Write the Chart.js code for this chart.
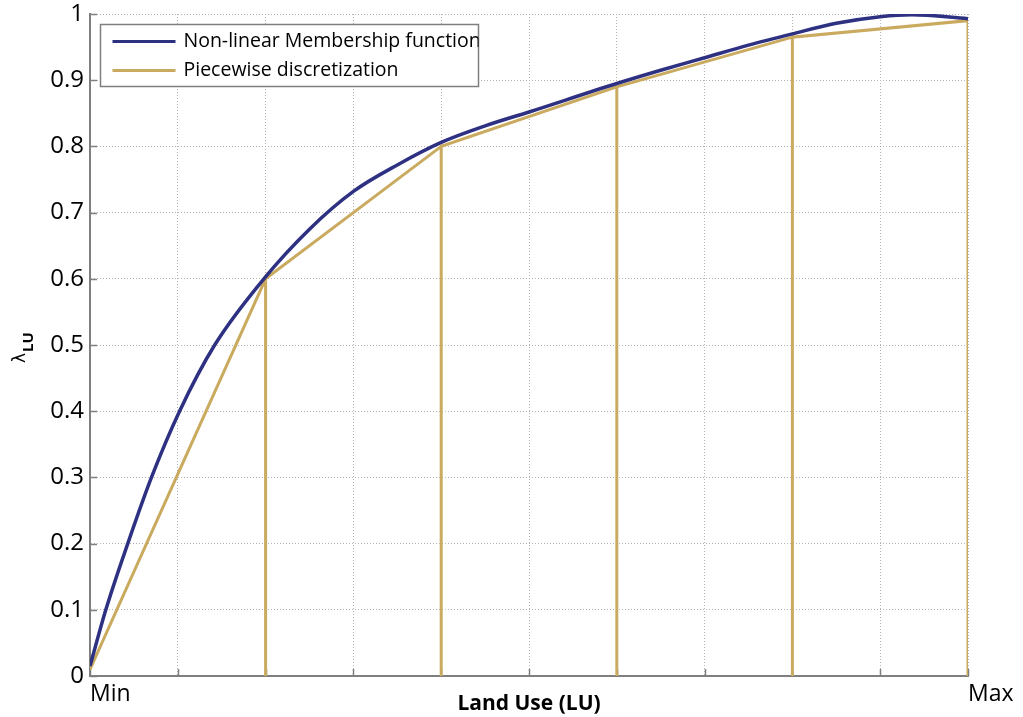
<!DOCTYPE html>
<html>
<head>
<meta charset="utf-8">
<script src="https://cdn.jsdelivr.net/npm/chart.js@4.4.1/dist/chart.umd.min.js"></script>
<style>
  html, body { margin: 0; padding: 0; background: #fff; }
  #chart { display: block; }
</style>
</head>
<body>
<canvas id="chart" width="1023" height="717"></canvas>
<script>
// values
const seriesNames = ['Non-linear Membership function', 'Piecewise discretization'];

// smooth membership curve (x in 0..10 between Min and Max)
const curveX = [0, 0.18, 0.43, 0.70, 1.02, 1.42, 1.98, 2.5, 3, 3.5, 4, 4.5, 5, 6, 6.5, 7, 7.5, 8, 8.5, 9, 9.36, 10];
const curveY = [0.015, 0.1, 0.2, 0.3, 0.4, 0.5, 0.6, 0.675, 0.732, 0.772, 0.806, 0.831, 0.852, 0.895, 0.915, 0.934, 0.953, 0.970, 0.986, 0.996, 0.999, 0.993];

// breakpoints of the piecewise discretization
const stepX = [0, 2, 4, 6, 8, 10];
const stepY = [0.01, 0.6, 0.8, 0.89, 0.965, 0.99];

const xTickLabels = ['Min', '', '', '', '', '', '', '', '', '', 'Max'];
const xTitle = 'Land Use (LU)';

const blue = '#2e3182';
const gold = '#c9aa5f';
const gridColor = '#b4b4b4';
const axisColor = '#7f7f7f';
const font = '"Open Sans", "DejaVu Sans", sans-serif';

const curvePoints = curveX.map((x, i) => ({ x: x, y: curveY[i] }));

// piecewise line with a vertical drop to zero at every breakpoint
const stepPoints = [];
stepX.forEach((x, i) => {
    stepPoints.push({ x: x, y: stepY[i] });
    if (i > 0) {
        stepPoints.push({ x: x, y: 0 });
        stepPoints.push({ x: x, y: stepY[i] });
    }
});

// small inward tick marks on the left and bottom axes
const innerTicks = {
    id: 'innerTicks',
    beforeDatasetsDraw(chart) {
        const { ctx, chartArea, scales } = chart;
        ctx.save();
        ctx.strokeStyle = axisColor;
        ctx.lineWidth = 1.5;
        ctx.beginPath();
        scales.x.ticks.forEach(t => {
            const px = Math.round(scales.x.getPixelForValue(t.value)) + 0.5;
            ctx.moveTo(px, chartArea.bottom);
            ctx.lineTo(px, chartArea.bottom - 7);
        });
        scales.y.ticks.forEach(t => {
            const py = Math.round(scales.y.getPixelForValue(t.value)) + 0.5;
            ctx.moveTo(chartArea.left, py);
            ctx.lineTo(chartArea.left + 7, py);
        });
        ctx.stroke();
        ctx.restore();
    }
};

// y title with subscript: lambda_LU
const yTitle = {
    id: 'yTitle',
    afterDraw(chart) {
        const { ctx, chartArea } = chart;
        const cy = (chartArea.top + chartArea.bottom) / 2;
        ctx.save();
        ctx.translate(25, cy + 18);
        ctx.rotate(-Math.PI / 2);
        ctx.fillStyle = '#000';
        ctx.textAlign = 'left';
        ctx.textBaseline = 'alphabetic';
        ctx.font = '17px "DejaVu Sans", sans-serif';
        ctx.fillText('\u03bb', 0, 0);
        const w = ctx.measureText('\u03bb').width;
        ctx.font = 'bold 15px ' + font;
        ctx.fillText('LU', w + 1, 8);
        ctx.restore();
    }
};

// boxed legend in the top-left corner of the plot
const boxLegend = {
    id: 'boxLegend',
    afterDraw(chart) {
        const { ctx, chartArea } = chart;
        const left = chartArea.left + 10.5;
        const top = chartArea.top + 10.5;
        const w = 378, h = 62;
        ctx.save();
        ctx.fillStyle = '#fff';
        ctx.fillRect(left, top, w, h);
        ctx.strokeStyle = axisColor;
        ctx.lineWidth = 1.5;
        ctx.strokeRect(left, top, w, h);
        ctx.beginPath();
        ctx.rect(left, top, w, h);
        ctx.clip();
        chart.data.datasets.forEach((ds, i) => {
            const y = top + 17 + i * 29;
            ctx.strokeStyle = ds.borderColor;
            ctx.lineWidth = 3;
            ctx.beginPath();
            ctx.moveTo(left + 12, y);
            ctx.lineTo(left + 75, y);
            ctx.stroke();
            ctx.fillStyle = '#000';
            ctx.font = '19.5px ' + font;
            ctx.textBaseline = 'middle';
            ctx.textAlign = 'left';
            ctx.fillText(ds.label, left + 83, y);
        });
        ctx.restore();
    }
};

const ctx = document.getElementById('chart').getContext('2d');
new Chart(ctx, {
    type: 'line',
    data: {
        datasets: [{
            label: seriesNames[0],
            data: curvePoints,
            borderColor: blue,
            borderWidth: 3.5,
            pointRadius: 0,
            fill: false,
            cubicInterpolationMode: 'monotone'
        }, {
            label: seriesNames[1],
            data: stepPoints,
            borderColor: gold,
            borderWidth: 3,
            pointRadius: 0,
            fill: false,
            tension: 0
        }]
    },
    options: {
        responsive: false,
        animation: false,
        layout: { padding: { left: 0, right: 55, top: 14, bottom: 0 } },
        plugins: { legend: { display: false }, tooltip: { enabled: false } },
        scales: {
            x: {
                type: 'linear',
                min: 0,
                max: 10,
                afterFit: s => { s.height = 41; s.paddingLeft = 0; },
                ticks: {
                    stepSize: 1,
                    align: 'start',
                    padding: 5,
                    maxRotation: 0,
                    autoSkip: false,
                    color: '#000',
                    font: { family: font, size: 23 },
                    callback: (v) => xTickLabels[Math.round(v)] || ''
                },
                grid: { color: gridColor, drawTicks: false, lineWidth: 1 },
                border: { display: true, color: axisColor, width: 2, dash: [1, 2] },
                title: {
                    display: true,
                    text: xTitle,
                    color: '#000',
                    font: { family: font, size: 21, weight: 'bold' },
                    padding: { top: 0, bottom: 0 }
                }
            },
            y: {
                type: 'linear',
                min: 0,
                max: 1,
                afterFit: s => { s.width = 90; s.paddingTop = 0; s.paddingBottom = 0; },
                ticks: {
                    stepSize: 0.1,
                    padding: 6,
                    color: '#000',
                    font: { family: font, size: 24 },
                    callback: (v) => String(+v.toFixed(1))
                },
                grid: { color: gridColor, drawTicks: false, lineWidth: 1 },
                border: { display: true, color: axisColor, width: 2, dash: [1, 2] }
            }
        }
    },
    plugins: [innerTicks, yTitle, boxLegend]
});
</script>
</body>
</html>
